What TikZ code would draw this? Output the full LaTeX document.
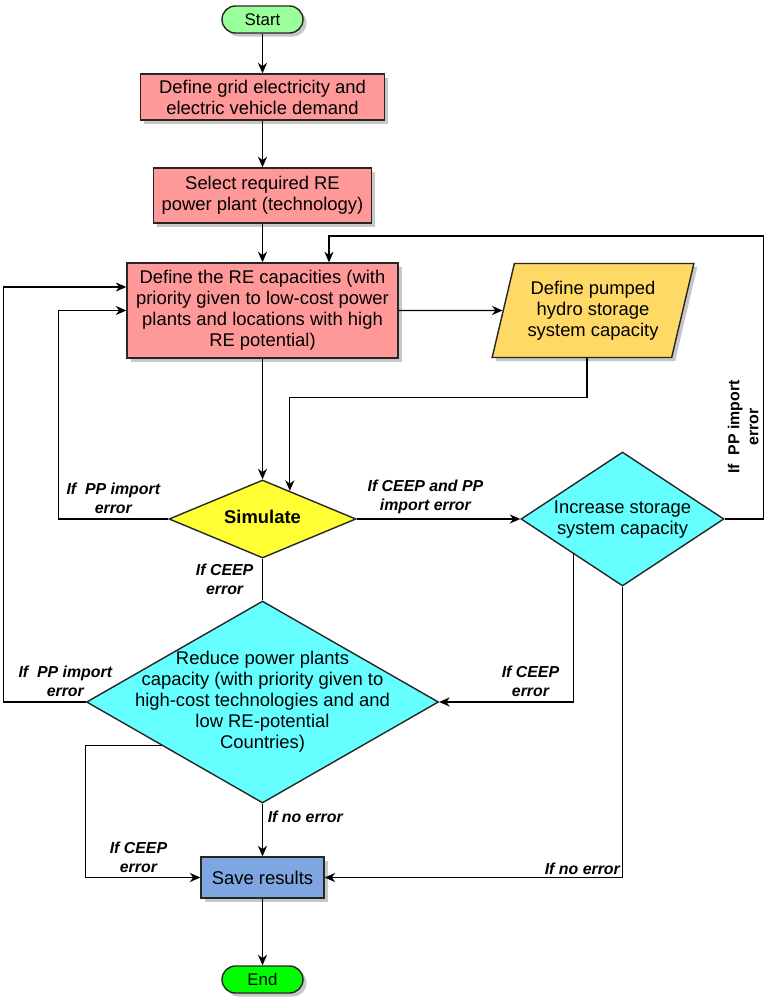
\documentclass[tikz,border=0pt]{standalone}
\usepackage{fontspec}
\setmainfont{Liberation Sans}
\usetikzlibrary{shapes.geometric,arrows.meta,calc,shadows}

\definecolor{startgreen}{RGB}{153,255,153}
\definecolor{endgreen}{RGB}{0,255,0}
\definecolor{salmon}{RGB}{255,153,153}
\definecolor{hydrogold}{RGB}{255,217,102}
\definecolor{simyellow}{RGB}{255,255,51}
\definecolor{loopcyan}{RGB}{102,255,255}
\definecolor{saveblue}{RGB}{126,166,224}

% text inside a diamond, kept from growing the shape
\newcommand{\dtext}[1]{\makebox[0pt]{\raisebox{-0.25em}[0pt][0pt]{\begin{tabular}{@{}c@{}}#1\end{tabular}}}}

\begin{document}
\begin{tikzpicture}[
  base/.style={draw=black!85, line width=1pt, font=\fontsize{13.1}{14.9}\selectfont, align=center, inner sep=1pt},
  shade/.style={drop shadow={shadow xshift=2.5pt, shadow yshift=-2.5pt, fill=black!22, opacity=1}},
  terminal/.style={base, shade, rounded corners=0.3375cm, minimum width=2.025cm, minimum height=0.675cm, font=\fontsize{12}{14}\selectfont},
  process/.style={base, shade, rectangle, fill=salmon},
  decision/.style={base, diamond, inner sep=0pt},
  arr/.style={-{Stealth[length=7.5pt,width=6.5pt]}, line width=0.8pt},
  cond/.style={font=\fontsize{11.3}{13.4}\selectfont\bfseries\itshape, align=center}
]

% Fix the page size
\useasboundingbox (0,0) rectangle (19.175,-24.95);

% Draw the main column
\node[terminal, fill=startgreen] (start) at (6.5625,-0.4875) {Start};
\node[process, minimum width=6.1cm, minimum height=1.15cm] (demand) at (6.5625,-2.425)
  {Define grid electricity and\\electric vehicle demand};
\node[process, minimum width=5.45cm, minimum height=1.375cm] (select) at (6.5625,-4.8875)
  {Select required RE\\power plant (technology)};
\node[process, minimum width=6.775cm, minimum height=2.375cm] (recap) at (6.5625,-7.7625)
  {Define the RE capacities (with\\priority given to low-cost power\\plants and locations with high\\RE potential)};
\node[base, shade, fill=hydrogold, trapezium, trapezium left angle=73, trapezium right angle=107,
  trapezium stretches=true, minimum width=5.05cm, minimum height=2.35cm] (pumped) at (14.825,-7.7625)
  {Define pumped\\hydro storage\\system capacity};

% Draw the decisions
\node[decision, fill=simyellow, minimum width=4.675cm, minimum height=1.95cm] (simulate) at (6.5625,-12.975)
  {\dtext{\textbf{Simulate}}};
\node[decision, fill=loopcyan, minimum width=5.075cm, minimum height=3.35cm] (increase) at (15.5625,-12.975)
  {\dtext{Increase storage\\system capacity}};
\node[decision, fill=loopcyan, minimum width=8.8cm, minimum height=5.05cm] (reduce) at (6.5625,-17.55)
  {\dtext{Reduce power plants\\capacity (with priority given to\\high-cost technologies and and\\low RE-potential\\Countries)}};

\node[base, shade, fill=saveblue, minimum width=3.075cm, minimum height=1.025cm] (save) at (6.5625,-21.9375) {Save results};
\node[terminal, fill=endgreen] (end) at (6.5625,-24.4875) {End};

% Points on the diamond edges
\coordinate (simin) at ($(simulate.north)!0.29!(simulate.east)$);
\coordinate (incl) at ($(increase.west)!0.52!(increase.south)$);
\coordinate (redl) at ($(reduce.west)!0.43!(reduce.south)$);

% Draw the straight flow
\draw[arr] (start) -- (demand);
\draw[arr] (demand) -- (select);
\draw[arr] (select) -- (recap);
\draw[arr] (recap.east) -- (pumped);
\draw[arr] (recap) -- (simulate);
\draw[arr] ($(pumped.center)+(-0.15,-1.175)$) -- ++(0,-1) -| (simin);

% Draw the branches of simulate
\draw[arr] (simulate.west) -- ++(-2.75,0) node[midway, above, cond] {If~ PP import\\error} |- (recap.west);
\draw[arr] (simulate) -- (increase) node[pos=0.42, above, cond] {If CEEP and PP\\import error};
\draw (simulate) -- (reduce) node[midway, left, cond, xshift=-3pt] {If CEEP\\error};

% Draw the branches of increase
\draw[arr] (increase.east) -- ++(0.975,0) -- ++(0,7.075)
  node[pos=0.325, rotate=90, anchor=south, font=\fontsize{11.3}{13.4}\selectfont\bfseries, align=center] {If~ PP import\\error}
  -| ($(recap.north)+(1.6625,0)$);
\draw[arr] (incl) |- (reduce.east) node[pos=0.66, above, cond] {If CEEP\\error};
\draw[arr] (increase.south) |- (save.east) node[pos=0.5, above left, cond, inner sep=1.5pt] {If no error};

% Draw the branches of reduce
\draw[arr] (reduce.west) -- ++(-2.05,0) node[pos=0.25, above, cond] {If~ PP import\\error} |- ($(recap.west)+(0,0.5875)$);
\draw[arr] (redl) -- ++(-1.9,0) |- (save.west) node[pos=0.73, above, cond] {If CEEP\\error};
\draw[arr] (reduce) -- (save) node[pos=0.25, right, cond] {If no error};
\draw[arr] (save) -- (end);

\end{tikzpicture}
\end{document}
